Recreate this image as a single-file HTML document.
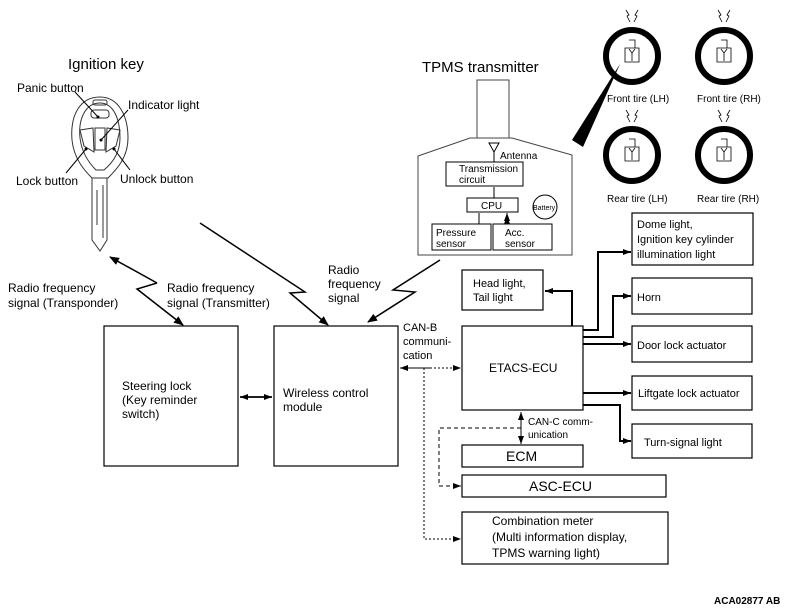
<!DOCTYPE html>
<html><head><meta charset="utf-8"><style>
html,body{margin:0;padding:0;background:#fff;}
svg{display:block;font-family:"Liberation Sans",Arial,sans-serif;}
</style></head><body>
<svg width="793" height="612" viewBox="0 0 793 612" xmlns="http://www.w3.org/2000/svg">
<defs>
<marker id="a" markerWidth="10" markerHeight="8" refX="9" refY="4" orient="auto" markerUnits="userSpaceOnUse"><path d="M0,0 L10,4 L0,8 z" fill="#000"/></marker>
<marker id="s" markerWidth="8" markerHeight="6" refX="8" refY="3" orient="auto" markerUnits="userSpaceOnUse"><path d="M0,0 L8,3 L0,6 z" fill="#000"/></marker>
</defs>
<g fill="none" stroke="#000" stroke-width="1.2">
<!-- boxes -->
<rect x="104" y="326" width="134" height="140"/>
<rect x="274" y="326" width="124" height="140"/>
<rect x="462" y="326" width="121" height="84"/>
<rect x="462" y="445" width="121" height="22"/>
<rect x="462" y="475" width="204" height="22"/>
<rect x="462" y="512" width="206" height="52"/>
<rect x="462" y="270" width="81" height="40"/>
<rect x="632" y="213" width="121" height="52"/>
<rect x="632" y="278" width="120" height="36"/>
<rect x="632" y="326" width="120" height="36"/>
<rect x="632" y="376" width="120" height="34"/>
<rect x="632" y="424" width="120" height="34"/>
<!-- TPMS -->
<rect x="477" y="80" width="32" height="58" stroke="#444" stroke-width="1"/>
<path d="M418,255 L418,156 L470,138 L512,138 L572,155 L572,255 Z" stroke="#444" stroke-width="1"/>
<rect x="446" y="162" width="77" height="24" stroke-width="1"/>
<rect x="467" y="198" width="51" height="14" stroke-width="1"/>
<rect x="432" y="224" width="59" height="26" stroke-width="1"/>
<rect x="493" y="224" width="59" height="26" stroke-width="1"/>
<circle cx="545" cy="207" r="12" stroke-width="1"/>
<path d="M489,143 L499,143 L494,152 Z M494,152 L494,162" stroke-width="1"/>
<path d="M494,198 L494,190 M479,224 L479,216 M507,224 L507,216" stroke-width="1" marker-end="url(#s)"/>
<path d="M494,198 L494,187 M479,224 L479,213 M507,224 L507,213" stroke-width="1" marker-end="url(#s)"/>
</g>
<!-- wedge -->
<path d="M572,140 L583,147 L620,64 Z" fill="#000"/>
<!-- tires -->
<g fill="none" stroke="#000">
<circle cx="632" cy="56" r="26" stroke-width="6"/>
<circle cx="724" cy="56" r="26" stroke-width="6"/>
<circle cx="632" cy="155" r="26" stroke-width="6"/>
<circle cx="724" cy="155" r="26" stroke-width="6"/>
<g stroke-width="0.8">
<path d="M625,48 h14 v14 h-14 z M629,40 h6 v8 M629,49 l3,4 l3,-4 M632,53 v8"/>
<path d="M717,48 h14 v14 h-14 z M721,40 h6 v8 M721,49 l3,4 l3,-4 M724,53 v8"/>
<path d="M625,147 h14 v14 h-14 z M629,139 h6 v8 M629,148 l3,4 l3,-4 M632,152 v8"/>
<path d="M717,147 h14 v14 h-14 z M721,139 h6 v8 M721,148 l3,4 l3,-4 M724,152 v8"/>
<path d="M626,10 l3,5 l-2,1 l3,6 M638,10 l-3,5 l2,1 l-3,6 M718,10 l3,5 l-2,1 l3,6 M730,10 l-3,5 l2,1 l-3,6"/>
<path d="M626,110 l3,5 l-2,1 l3,6 M638,110 l-3,5 l2,1 l-3,6 M718,110 l3,5 l-2,1 l3,6 M730,110 l-3,5 l2,1 l-3,6"/>
</g>
</g>
<!-- key -->
<g fill="none" stroke="#333" stroke-width="1">
<path d="M100,97 C80,97 70,115 72,140 C74,160 86,172 92,178 L108,178 C116,170 128,158 128,138 C128,115 118,97 100,97 Z"/>
<path d="M100,103 C86,103 78,118 80,138 C82,155 92,166 96,170 L104,170 C110,165 120,155 120,138 C120,118 113,103 100,103 Z"/>
<rect x="93" y="100" width="14" height="5" rx="2"/>
<rect x="91" y="110" width="18" height="8" rx="3"/>
<path d="M95,128 L95,150 L105,150 L105,128 Z"/>
<path d="M80,130 L93,128 L94,152 L84,146 Z M120,130 L107,128 L106,152 L116,146 Z"/>
<path d="M92,178 L92,240 L100,251 L107,240 L107,178 M103,185 L103,238 M97,190 L97,225"/>
<path d="M98,117 L75,92 M101,140 L128,110 M86,149 L66,173 M114,149 L130,170" stroke="#000"/>
</g>
<g fill="#000"><circle cx="98" cy="117" r="1.5"/><circle cx="101" cy="140" r="1.5"/><circle cx="86" cy="149" r="1.5"/><circle cx="114" cy="149" r="1.5"/></g>
<!-- signals -->
<g fill="none" stroke="#000" stroke-width="1.5">
<path d="M157,283 L110,257" marker-end="url(#a)"/>
<path d="M157,283 L137,289 L183,325" marker-end="url(#a)"/>
<path d="M200,223 L305,292 L290,293 L328,325" marker-end="url(#a)"/>
<path d="M440,260 L393,290 L415,292 L368,322" marker-end="url(#a)"/>
<path d="M240,397 L272,397" marker-end="url(#s)"/>
<path d="M272,397 L240,397" marker-end="url(#s)"/>
</g>
<!-- CAN-B -->
<g fill="none" stroke="#000" stroke-width="1">
<path d="M430,368 L400,368" marker-end="url(#s)"/>
<path d="M430,368 L461,368" stroke-dasharray="2,2" marker-end="url(#s)"/>
<path d="M424,368 L424,539 L461,539" stroke-dasharray="2,2" marker-end="url(#s)"/>
<path d="M521,428 L521,412" marker-end="url(#s)"/>
<path d="M521,428 L521,444" marker-end="url(#s)"/>
<path d="M521,428 L439,428 L439,486 L461,486" stroke-dasharray="4,3" marker-end="url(#s)"/>
</g>
<!-- ETACS outputs -->
<g fill="none" stroke="#000" stroke-width="2">
<path d="M572,326 L572,291 L545,291" marker-end="url(#s)"/>
<path d="M583,330 L598,330 L598,252 L631,252" marker-end="url(#s)"/>
<path d="M583,337 L613,337 L613,296 L631,296" marker-end="url(#s)"/>
<path d="M583,344 L631,344" marker-end="url(#s)"/>
<path d="M583,393 L631,393" marker-end="url(#s)"/>
<path d="M583,405 L620,405 L620,441 L631,441" marker-end="url(#s)"/>
</g>
<!-- text -->
<g font-size="12" fill="#000">
<text x="68" y="69" font-size="15">Ignition key</text>
<text x="17" y="92">Panic button</text>
<text x="128" y="109">Indicator light</text>
<text x="16" y="185">Lock button</text>
<text x="120" y="183">Unlock button</text>
<text x="8" y="292">Radio frequency</text>
<text x="8" y="307">signal (Transponder)</text>
<text x="167" y="292">Radio frequency</text>
<text x="167" y="307">signal (Transmitter)</text>
<text x="328" y="274">Radio</text>
<text x="328" y="288">frequency</text>
<text x="328" y="302">signal</text>
<text x="422" y="72" font-size="15">TPMS transmitter</text>
<text x="500" y="159" font-size="10">Antenna</text>
<text x="459" y="172" font-size="10">Transmission</text>
<text x="459" y="183" font-size="10">circuit</text>
<text x="481" y="209" font-size="10">CPU</text>
<text x="436" y="236" font-size="10">Pressure</text>
<text x="436" y="247" font-size="10">sensor</text>
<text x="505" y="236" font-size="10">Acc.</text>
<text x="505" y="247" font-size="10">sensor</text>
<text x="533" y="210" font-size="7">Battery</text>
<text x="607" y="102" font-size="10">Front tire (LH)</text>
<text x="697" y="102" font-size="10">Front tire (RH)</text>
<text x="607" y="202" font-size="10">Rear tire (LH)</text>
<text x="697" y="202" font-size="10">Rear tire (RH)</text>
<text x="473" y="287" font-size="11">Head light,</text>
<text x="473" y="301" font-size="11">Tail light</text>
<text x="637" y="228" font-size="11">Dome light,</text>
<text x="637" y="243" font-size="11">Ignition key cylinder</text>
<text x="637" y="258" font-size="11">illumination light</text>
<text x="637" y="301" font-size="11">Horn</text>
<text x="637" y="349" font-size="11">Door lock actuator</text>
<text x="638" y="397" font-size="11">Liftgate lock actuator</text>
<text x="644" y="446" font-size="11">Turn-signal light</text>
<text x="489" y="372">ETACS-ECU</text>
<text x="403" y="331" font-size="11">CAN-B</text>
<text x="403" y="345" font-size="11">communi-</text>
<text x="403" y="359" font-size="11">cation</text>
<text x="528" y="425" font-size="10">CAN-C comm-</text>
<text x="528" y="438" font-size="10">unication</text>
<text x="506" y="461" font-size="14">ECM</text>
<text x="529" y="491" font-size="14">ASC-ECU</text>
<text x="492" y="525">Combination meter</text>
<text x="492" y="541">(Multi information display,</text>
<text x="492" y="557">TPMS warning light)</text>
<text x="122" y="390">Steering lock</text>
<text x="122" y="404">(Key reminder</text>
<text x="122" y="418">switch)</text>
<text x="283" y="397">Wireless control</text>
<text x="283" y="411">module</text>
<text x="714" y="604" font-size="10" font-weight="bold">ACA02877 AB</text>
</g>
</svg>
</body></html>
